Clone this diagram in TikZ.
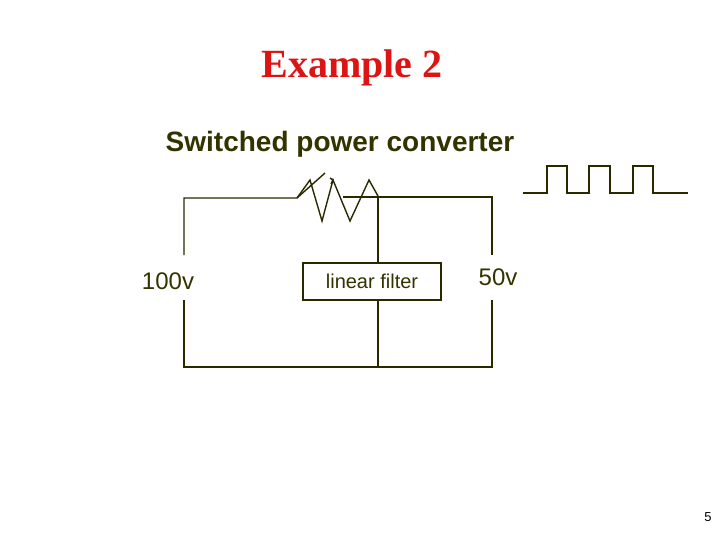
\documentclass[tikz,border=0pt]{standalone}
\usepackage{fontspec}
\setmainfont{Liberation Sans}
\newfontfamily\tms{Liberation Serif}
\definecolor{olive}{RGB}{51,51,0}
\definecolor{tred}{RGB}{220,20,20}
\begin{document}
\begin{tikzpicture}[x=1pt,y=-1pt,w/.style={draw=olive!80!black,line width=1.4pt}]
\useasboundingbox (0,0) rectangle (720,540);
\node (t) at (352,68) {\tms\fontsize{40}{44}\selectfont\bfseries\color{tred}Example 2};
\node (s) at (340,144) {\fontsize{28}{32}\selectfont\bfseries\color{olive}Switched power converter};
\node (a) at (168,281) {\fontsize{24}{28}\selectfont\color{olive}100v};
\node (b) at (498,277) {\fontsize{24}{28}\selectfont\color{olive}50v};
\node[w,minimum width=138,minimum height=37,inner sep=0] (f) at (372,281.5) {\fontsize{20}{24}\selectfont\color{olive}linear filter};
\node (p) at (708,517) {\fontsize{13}{15}\selectfont 5};
\coordinate (tl) at (184,198);
\coordinate (sw) at (297,198);
\coordinate (j) at (378,196);
\draw[w] (184,255) -- (tl) -- (sw) -- (325,173);
\draw[w] (sw) -- (310,180) -- (322,221) -- (333,180) -- (350,221) -- (369,180) -- (j);
\draw[w] (330,178) -- (333,180) -- (331,184);
\draw[w] (343,197) -- (492,197) -- (492,255);
\draw[w] (492,300) -- (492,367) -- (184,367) -- (184,300);
\draw[w] (j) -- (f.north -| j);
\draw[w] (f.south -| j) -- (378,367);
\draw[w] (523,193) -- (547,193) -- (547,166) -- (567,166) -- (567,193) -- (589,193) -- (589,166) -- (610,166) -- (610,193) -- (633,193) -- (633,166) -- (653,166) -- (653,193) -- (688,193);
\end{tikzpicture}
\end{document}
